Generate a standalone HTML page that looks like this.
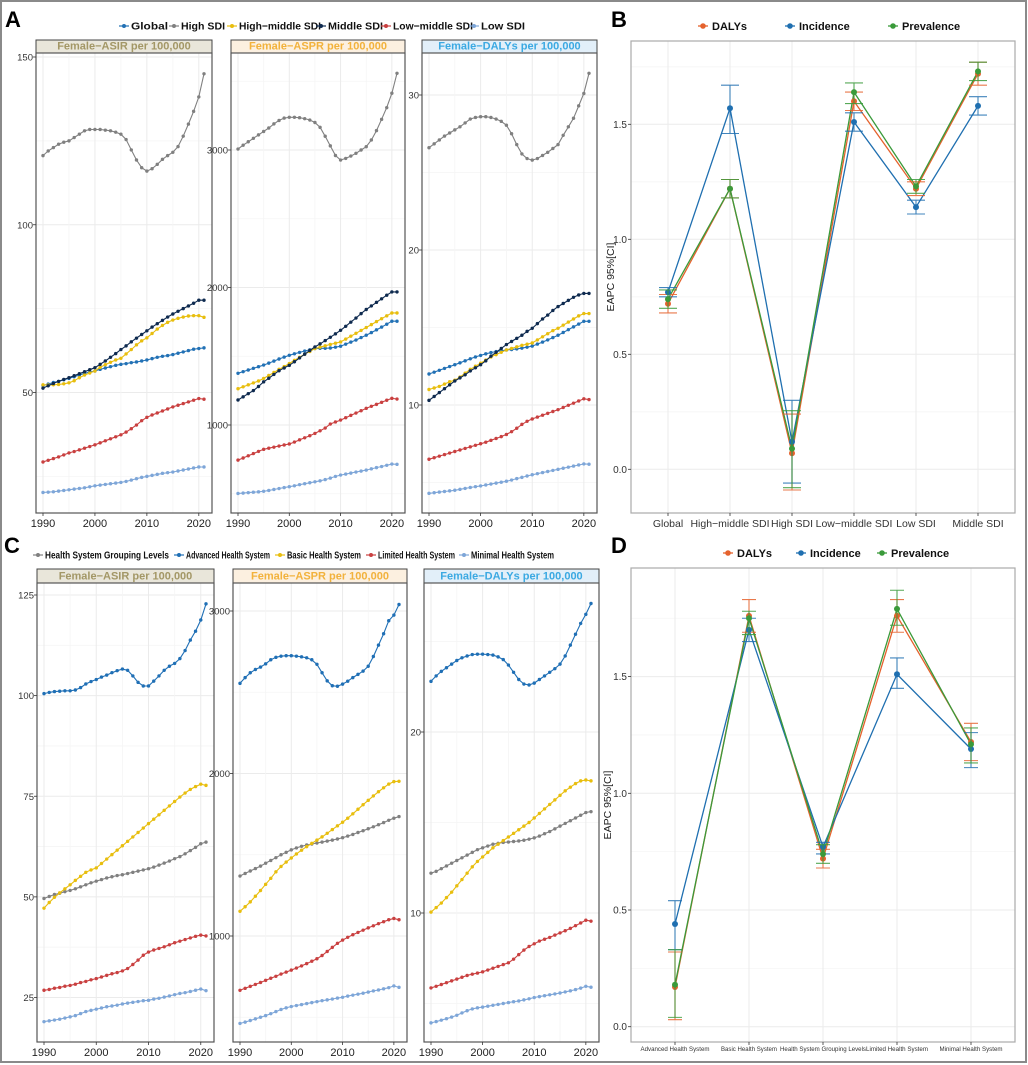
<!DOCTYPE html>
<html><head><meta charset="utf-8">
<style>
html,body{margin:0;padding:0;background:#fff;}
svg{display:block;font-family:"Liberation Sans",Arial,sans-serif;}
</style></head>
<body>
<svg id="fig" width="1028" height="1065" viewBox="0 0 1028 1065" xmlns="http://www.w3.org/2000/svg">
<rect x="1" y="1" width="1025" height="1061" fill="#fff" stroke="#8a8a8a" stroke-width="2"/>
<text x="5" y="27" font-size="22" font-weight="bold">A</text>
<text x="611" y="27" font-size="22" font-weight="bold">B</text>
<text x="4" y="553" font-size="22" font-weight="bold">C</text>
<text x="611" y="553" font-size="22" font-weight="bold">D</text>
</svg>
<script>
// ---------- data: years ----------
const years=[1990,1991,1992,1993,1994,1995,1996,1997,1998,1999,2000,2001,2002,2003,2004,2005,2006,2007,2008,2009,2010,2011,2012,2013,2014,2015,2016,2017,2018,2019,2020,2021];
// ---------- Panel A: SDI groups ----------
const A1_global=[52.1,52.5,53,53.3,53.8,54.2,54.7,55.2,55.7,56.1,56.4,56.9,57.3,57.7,58.1,58.4,58.6,58.9,59.1,59.4,59.7,60.1,60.5,60.8,61,61.3,61.7,62.1,62.5,62.9,63.1,63.3];
const A1_high=[120.6,122,123,124,124.6,125,126,127,128,128.4,128.4,128.4,128.2,128,127.6,127,125.4,122.3,119.3,117,116,116.7,118,119.5,120.6,121.6,123.3,126.4,130,133.8,138.1,145];
const A1_highmid=[52.3,52.2,52.3,52.4,52.6,52.9,53.5,54.4,55.2,55.8,56.4,57.5,58.3,59,59.7,60.2,61.5,62.8,64.2,65.4,66.3,67.6,68.9,70,70.9,71.6,72.1,72.5,72.8,72.9,72.9,72.4];
const A1_mid=[51.3,52,52.7,53.3,53.9,54.4,55,55.6,56.2,56.8,57.4,58.4,59.4,60.5,61.6,62.8,63.9,65.1,66.2,67.3,68.4,69.5,70.5,71.5,72.5,73.4,74.2,75,75.8,76.6,77.5,77.5];
const A1_lowmid=[29.3,29.8,30.3,30.8,31.4,32,32.4,32.9,33.4,33.9,34.4,35,35.6,36.2,36.8,37.4,38.2,39.2,40.3,41.6,42.6,43.3,43.9,44.5,45.1,45.7,46.2,46.7,47.2,47.7,48.2,48];
const A1_low=[20.2,20.3,20.4,20.6,20.8,21,21.2,21.4,21.6,21.9,22.2,22.4,22.6,22.8,23,23.2,23.5,23.9,24.3,24.7,25,25.3,25.6,25.9,26.1,26.3,26.6,26.9,27.2,27.5,27.8,27.8];
const A2_global=[1376,1388,1400,1412,1424,1436,1450,1465,1480,1494,1507,1518,1528,1538,1547,1556,1558,1558,1560,1566,1573,1588,1603,1618,1636,1653,1672,1692,1712,1733,1755,1755];
const A2_high=[3007,3035,3060,3085,3110,3135,3160,3190,3215,3232,3238,3238,3235,3228,3218,3200,3165,3100,3030,2960,2927,2939,2956,2976,3000,3024,3073,3141,3223,3308,3413,3558];
const A2_highmid=[1264,1278,1292,1306,1320,1339,1360,1382,1405,1425,1447,1470,1492,1515,1535,1556,1566,1576,1586,1595,1604,1625,1646,1667,1688,1709,1730,1752,1773,1794,1815,1815];
const A2_mid=[1182,1205,1228,1250,1280,1314,1340,1368,1395,1415,1434,1460,1488,1515,1542,1568,1590,1614,1638,1663,1689,1718,1748,1778,1810,1840,1866,1892,1918,1944,1968,1968];
const A2_lowmid=[745,760,776,792,808,823,831,839,847,855,862,876,892,907,922,939,958,978,1007,1022,1036,1053,1070,1087,1104,1121,1136,1150,1165,1180,1194,1189];
const A2_low=[502,505,508,511,514,518,524,531,538,545,551,558,566,573,580,587,594,603,614,626,636,643,650,658,665,672,681,690,698,707,716,714];
const A3_global=[12.0,12.12,12.24,12.36,12.48,12.6,12.72,12.85,12.98,13.1,13.2,13.3,13.38,13.45,13.5,13.55,13.58,13.62,13.67,13.73,13.8,13.93,14.06,14.2,14.35,14.5,14.68,14.86,15.04,15.22,15.4,15.4];
const A3_high=[26.6,26.85,27.1,27.35,27.55,27.75,27.95,28.2,28.45,28.55,28.6,28.6,28.55,28.45,28.3,28.05,27.5,26.8,26.2,25.9,25.8,25.9,26.1,26.3,26.55,26.8,27.4,27.95,28.5,29.3,30.1,31.4];
const A3_highmid=[11.0,11.1,11.2,11.35,11.5,11.6,11.8,12.05,12.3,12.5,12.7,12.9,13.1,13.25,13.4,13.55,13.65,13.75,13.85,13.92,14.0,14.2,14.4,14.6,14.8,14.95,15.15,15.35,15.55,15.75,15.9,15.9];
const A3_mid=[10.3,10.55,10.8,11.05,11.3,11.55,11.75,11.95,12.2,12.4,12.6,12.85,13.15,13.4,13.65,13.9,14.1,14.3,14.5,14.75,14.95,15.25,15.55,15.8,16.1,16.35,16.55,16.75,16.95,17.1,17.2,17.2];
const A3_lowmid=[6.5,6.6,6.7,6.8,6.9,7.0,7.1,7.2,7.3,7.4,7.5,7.6,7.72,7.84,7.96,8.1,8.28,8.5,8.75,8.95,9.1,9.22,9.34,9.46,9.58,9.7,9.84,9.98,10.12,10.26,10.4,10.35];
const A3_low=[4.3,4.34,4.38,4.42,4.46,4.5,4.56,4.62,4.68,4.73,4.78,4.84,4.9,4.96,5.02,5.08,5.16,5.25,5.33,5.42,5.5,5.57,5.64,5.71,5.78,5.85,5.92,5.99,6.06,6.13,6.2,6.18];
const A1_ticks=[50,100,150];
const A2_ticks=[1000,2000,3000];
const A3_ticks=[10,20,30];
// ---------- Panel C: health systems ----------
const C1_group=[49.6,50.1,50.6,50.9,51.3,51.6,52,52.5,53,53.5,53.9,54.3,54.7,55,55.3,55.5,55.8,56.1,56.4,56.7,57,57.4,57.9,58.4,58.9,59.5,60,60.7,61.5,62.3,63.2,63.6];
const C1_adv=[100.5,100.8,101,101.1,101.2,101.2,101.4,102,102.9,103.5,104,104.6,105.1,105.7,106.2,106.6,106.3,104.9,103.3,102.4,102.4,103.6,104.9,106.3,107.3,108,109.2,111.2,113.8,116,118.8,122.8];
const C1_basic=[47.2,48.6,49.9,51,52,53,54.1,55.1,56.1,56.7,57.2,58.3,59.4,60.5,61.6,62.7,63.8,64.9,66,67.1,68.2,69.3,70.4,71.5,72.6,73.7,74.8,75.8,76.7,77.4,78,77.7];
const C1_limited=[26.8,27,27.3,27.5,27.8,28,28.3,28.7,29,29.4,29.7,30.1,30.5,30.9,31.2,31.6,32.2,33.2,34.3,35.5,36.3,36.8,37.2,37.6,38.1,38.6,39,39.4,39.8,40.2,40.5,40.3];
const C1_minimal=[19,19.2,19.4,19.6,19.9,20.2,20.5,21,21.5,21.8,22.1,22.4,22.7,22.9,23.1,23.4,23.6,23.8,24,24.2,24.3,24.6,24.8,25.1,25.4,25.7,26,26.2,26.5,26.8,27.1,26.7];
const C2_group=[1369,1385,1400,1415,1430,1448,1465,1482,1500,1515,1530,1542,1552,1560,1566,1572,1578,1584,1590,1597,1605,1615,1625,1637,1648,1660,1672,1685,1698,1712,1725,1735];
const C2_adv=[2555,2590,2620,2640,2655,2675,2700,2715,2722,2725,2725,2722,2718,2712,2700,2672,2620,2570,2540,2537,2550,2568,2590,2610,2630,2660,2720,2790,2860,2940,2975,3040];
const C2_basic=[1152,1180,1210,1245,1280,1318,1355,1395,1428,1455,1480,1505,1528,1550,1570,1590,1610,1632,1655,1678,1700,1725,1752,1780,1808,1835,1862,1888,1912,1935,1950,1952];
const C2_limited=[666,678,690,702,714,727,740,752,766,778,790,803,816,830,845,860,880,905,930,955,975,992,1008,1022,1036,1050,1063,1076,1088,1100,1108,1100];
const C2_minimal=[462,470,480,490,500,510,522,535,548,558,566,572,578,584,590,596,602,607,612,618,623,630,636,642,648,655,662,668,675,682,693,684];
const C3_group=[12.2,12.3,12.45,12.6,12.75,12.9,13.05,13.2,13.35,13.5,13.6,13.7,13.8,13.85,13.9,13.92,13.95,13.98,14.02,14.08,14.15,14.25,14.38,14.5,14.65,14.8,14.95,15.1,15.25,15.4,15.55,15.6];
const C3_adv=[22.8,23.1,23.35,23.55,23.75,23.95,24.1,24.2,24.28,24.3,24.3,24.28,24.25,24.15,24.0,23.7,23.3,22.9,22.65,22.6,22.7,22.9,23.1,23.3,23.5,23.75,24.2,24.8,25.4,26,26.5,27.1];
const C3_basic=[10.05,10.3,10.55,10.85,11.15,11.5,11.85,12.2,12.55,12.85,13.1,13.35,13.6,13.8,14.0,14.2,14.4,14.6,14.8,15.0,15.25,15.5,15.75,16.0,16.25,16.5,16.75,16.95,17.15,17.3,17.35,17.3];
const C3_limited=[5.86,5.95,6.05,6.15,6.25,6.35,6.45,6.55,6.62,6.68,6.75,6.85,6.95,7.05,7.15,7.25,7.45,7.7,7.95,8.15,8.3,8.45,8.55,8.65,8.78,8.9,9.02,9.15,9.3,9.45,9.6,9.55];
const C3_minimal=[3.93,4.0,4.08,4.16,4.25,4.35,4.48,4.6,4.7,4.76,4.8,4.85,4.9,4.95,5.0,5.05,5.1,5.14,5.2,5.26,5.33,5.38,5.43,5.48,5.53,5.58,5.64,5.7,5.77,5.85,5.95,5.9];
const C1_ticks=[25,50,75,100,125];
const C2_ticks=[1000,2000,3000];
const C3_ticks=[10,20];
// ---------- Panel B: EAPC by SDI ----------
const B_categories=["Global","High\u2212middle SDI","High SDI","Low\u2212middle SDI","Low SDI","Middle SDI"];
const B_dalys=[0.72,1.22,0.07,1.60,1.22,1.72];
const B_dalys_lo=[0.68,1.18,-0.09,1.56,1.19,1.67];
const B_dalys_hi=[0.76,1.26,0.24,1.64,1.25,1.77];
const B_inc=[0.77,1.57,0.12,1.51,1.14,1.58];
const B_inc_lo=[0.75,1.46,-0.06,1.47,1.11,1.54];
const B_inc_hi=[0.79,1.67,0.30,1.55,1.17,1.62];
const B_prev=[0.74,1.22,0.09,1.64,1.23,1.73];
const B_prev_lo=[0.70,1.18,-0.08,1.59,1.20,1.69];
const B_prev_hi=[0.78,1.26,0.255,1.68,1.26,1.77];
const B_ticks=[0.0,0.5,1.0,1.5];
// ---------- Panel D: EAPC by health system ----------
const D_categories=["Advanced Health System","Basic Health System","Health System Grouping Levels","Limited Health System","Minimal Health System"];
const D_dalys=[0.17,1.76,0.72,1.76,1.22];
const D_dalys_lo=[0.03,1.69,0.68,1.69,1.14];
const D_dalys_hi=[0.32,1.83,0.76,1.83,1.30];
const D_inc=[0.44,1.70,0.77,1.51,1.19];
const D_inc_lo=[0.33,1.65,0.74,1.45,1.11];
const D_inc_hi=[0.54,1.75,0.79,1.58,1.26];
const D_prev=[0.18,1.75,0.74,1.79,1.21];
const D_prev_lo=[0.04,1.68,0.70,1.72,1.13];
const D_prev_hi=[0.33,1.78,0.78,1.87,1.28];
const D_ticks=[0.0,0.5,1.0,1.5];

const NS="http://www.w3.org/2000/svg";
const svg=document.getElementById('fig');
function mk(tag,attrs,parent){const e=document.createElementNS(NS,tag);for(const k in attrs)e.setAttribute(k,attrs[k]);(parent||svg).appendChild(e);return e;}
function txt(x,y,s,attrs){const e=mk('text',Object.assign({x:x,y:y},attrs||{}));e.textContent=s;return e;}

const COL={global:'#2271B5',high:'#808080',highmid:'#E8BE0E',mid:'#0E2A4F',lowmid:'#C94040',low:'#7EA6D8',
  grp:'#808080',adv:'#1F6FB5',basic:'#E8BE0E',lim:'#C94040',min:'#7EA6D8',
  dalys:'#E5622D',inc:'#1F6FB0',prev:'#3A9A3A'};

function linePanel(g){
  const x0=g.x0,x1=g.x1,y0=g.y0,y1=g.y1;
  const t0=g.ticks[0],tN=g.ticks[g.ticks.length-1];
  const yS=v=>g.ty0+(v-t0)*(g.tyN-g.ty0)/(tN-t0);
  const xS=yr=>x0+7+(yr-1990)*(x1-x0-15)/31;
  const step=g.ticks.length>1?g.ticks[1]-g.ticks[0]:10;
  const st=mk('rect',{x:x0,y:g.sy,width:x1-x0,height:y0-g.sy,fill:g.sfill,stroke:'#444','stroke-width':1});
  
  
  const stt=txt((x0+x1)/2,y0-3.5,g.title,{'font-size':11,'font-weight':'bold',fill:g.scol,'text-anchor':'middle'});
  
  
  for(let v=t0-step*2;v<=tN+step*2;v+=step/2){
    const yy=yS(v); if(yy<y0+1||yy>y1-1)continue;
    const major=g.ticks.indexOf(Math.round(v*1000)/1000)>=0;
    const gl=mk('line',{x1:x0,x2:x1,y1:yy,y2:yy,stroke:major?'#EBEBEB':'#F5F5F5','stroke-width':major?1:0.8});
    
    
  }
  [1990,1995,2000,2005,2010,2015,2020].forEach(yr=>{
    const xx=xS(yr);const major=yr%10===0;
    const gl=mk('line',{x1:xx,x2:xx,y1:y0,y2:y1,stroke:major?'#EBEBEB':'#F5F5F5','stroke-width':major?1:0.8});
    
    
  });
  g.series.forEach(s=>{
    const pts=s.data.map((v,i)=>xS(years[i]).toFixed(1)+','+yS(v).toFixed(1)).join(' ');
    const pl=mk('polyline',{points:pts,fill:'none',stroke:s.col,'stroke-width':1.1});
    
    
    s.data.forEach((v,i)=>{
      const c=mk('circle',{cx:xS(years[i]),cy:yS(v),r:1.7,fill:s.col});
      
      
    });
  });
  const fr=mk('rect',{x:x0,y:y0,width:x1-x0,height:y1-y0,fill:'none',stroke:'#555','stroke-width':1.2});
  
  
  g.ticks.forEach(v=>{
    const yy=yS(v);
    const tk=mk('line',{x1:x0-3,x2:x0,y1:yy,y2:yy,stroke:'#333','stroke-width':0.8});
    
    
    const tl=txt(x0-3,yy+3.5,String(v),{'font-size':9.5,fill:'#333','text-anchor':'end'});
    
    
  });
  [1990,2000,2010,2020].forEach(yr=>{
    const xx=xS(yr);
    const tk=mk('line',{x1:xx,x2:xx,y1:y1,y2:y1+3,stroke:'#333','stroke-width':0.8});
    
    
    const tl=txt(xx,y1+14,String(yr),{'font-size':11,fill:'#222','text-anchor':'middle'});
    
    
  });
}

const stripA=[{t:'Female\u2212ASIR per 100,000',f:'#E9E6DA',c:'#A39766'},{t:'Female\u2212ASPR per 100,000',f:'#FCF0E0',c:'#F2B23C'},{t:'Female\u2212DALYs per 100,000',f:'#E2EFF9',c:'#3BA9E2'}];
linePanel({name:'a-asir',x0:36,x1:212,sy:40,y0:53,y1:513,ticks:A1_ticks,ty0:392.5,tyN:57,title:stripA[0].t,sfill:stripA[0].f,scol:stripA[0].c,
 series:[{key:'high-sdi',data:A1_high,col:COL.high},{key:'low-sdi',data:A1_low,col:COL.low},{key:'low-middle-sdi',data:A1_lowmid,col:COL.lowmid},{key:'global',data:A1_global,col:COL.global},{key:'high-middle-sdi',data:A1_highmid,col:COL.highmid},{key:'middle-sdi',data:A1_mid,col:COL.mid}]});
linePanel({name:'a-aspr',x0:231,x1:405,sy:40,y0:53,y1:513,ticks:A2_ticks,ty0:425,tyN:150,title:stripA[1].t,sfill:stripA[1].f,scol:stripA[1].c,
 series:[{key:'high-sdi',data:A2_high,col:COL.high},{key:'low-sdi',data:A2_low,col:COL.low},{key:'low-middle-sdi',data:A2_lowmid,col:COL.lowmid},{key:'global',data:A2_global,col:COL.global},{key:'high-middle-sdi',data:A2_highmid,col:COL.highmid},{key:'middle-sdi',data:A2_mid,col:COL.mid}]});
linePanel({name:'a-dalys',x0:422,x1:597,sy:40,y0:53,y1:513,ticks:A3_ticks,ty0:405,tyN:95,title:stripA[2].t,sfill:stripA[2].f,scol:stripA[2].c,
 series:[{key:'high-sdi',data:A3_high,col:COL.high},{key:'low-sdi',data:A3_low,col:COL.low},{key:'low-middle-sdi',data:A3_lowmid,col:COL.lowmid},{key:'global',data:A3_global,col:COL.global},{key:'high-middle-sdi',data:A3_highmid,col:COL.highmid},{key:'middle-sdi',data:A3_mid,col:COL.mid}]});

linePanel({name:'c-asir',x0:37,x1:214,sy:569,y0:583,y1:1042,ticks:C1_ticks,ty0:997.5,tyN:595,title:stripA[0].t,sfill:stripA[0].f,scol:stripA[0].c,
 series:[{key:'minimal',data:C1_minimal,col:COL.min},{key:'limited',data:C1_limited,col:COL.lim},{key:'grouping',data:C1_group,col:COL.grp},{key:'basic',data:C1_basic,col:COL.basic},{key:'advanced',data:C1_adv,col:COL.adv}]});
linePanel({name:'c-aspr',x0:233,x1:407,sy:569,y0:583,y1:1042,ticks:C2_ticks,ty0:936,tyN:611,title:stripA[1].t,sfill:stripA[1].f,scol:stripA[1].c,
 series:[{key:'minimal',data:C2_minimal,col:COL.min},{key:'limited',data:C2_limited,col:COL.lim},{key:'grouping',data:C2_group,col:COL.grp},{key:'basic',data:C2_basic,col:COL.basic},{key:'advanced',data:C2_adv,col:COL.adv}]});
linePanel({name:'c-dalys',x0:424,x1:599,sy:569,y0:583,y1:1042,ticks:C3_ticks,ty0:913,tyN:732,title:stripA[2].t,sfill:stripA[2].f,scol:stripA[2].c,
 series:[{key:'minimal',data:C3_minimal,col:COL.min},{key:'limited',data:C3_limited,col:COL.lim},{key:'grouping',data:C3_group,col:COL.grp},{key:'basic',data:C3_basic,col:COL.basic},{key:'advanced',data:C3_adv,col:COL.adv}]});

function legendItem(mx,y,label,col,name,w){
  const l=mk('line',{x1:mx-5,x2:mx+5,y1:y,y2:y,stroke:col,'stroke-width':1.2});
  
  
  const c=mk('circle',{cx:mx,cy:y,r:2,fill:col});
  
  
  const t=txt(mx+7,y+3.7,label,{'font-size':10.5,'font-weight':'bold',fill:'#111',textLength:w,lengthAdjust:'spacingAndGlyphs'});
  
  
}
legendItem(124,26,'Global',COL.global,'legend-global',37);
legendItem(174,26,'High SDI',COL.high,'legend-high-sdi',44);
legendItem(232,26,'High\u2212middle SDI',COL.highmid,'legend-high-middle-sdi',82);
legendItem(321,26,'Middle SDI',COL.mid,'legend-middle-sdi',55);
legendItem(386,26,'Low\u2212middle SDI',COL.lowmid,'legend-low-middle-sdi',80);
legendItem(474,26,'Low SDI',COL.low,'legend-low-sdi',44);
legendItem(38,555,'Health System Grouping Levels',COL.grp,'legend-grouping',124);
legendItem(179,555,'Advanced Health System',COL.adv,'legend-advanced',84);
legendItem(280,555,'Basic Health System',COL.basic,'legend-basic',74);
legendItem(371,555,'Limited Health System',COL.lim,'legend-limited',77);
legendItem(464,555,'Minimal Health System',COL.min,'legend-minimal',83);

function eapcPanel(g){
  const x0=g.x0,x1=g.x1,y0=g.y0,y1=g.y1;
  const yS=v=>g.zeroY-v*g.unit;
  const xS=i=>g.cx0+i*g.cstep;
  for(let v=-0.25;v<=2.0;v+=0.25){
    const yy=yS(v); if(yy<y0+1||yy>y1-1)continue;
    const major=Math.abs(v*2-Math.round(v*2))<1e-6;
    const gl=mk('line',{x1:x0,x2:x1,y1:yy,y2:yy,stroke:major?'#EBEBEB':'#F5F5F5','stroke-width':major?1:0.8});
    
    
  }
  g.cats.forEach((c,i)=>{
    const xx=xS(i);
    const gl=mk('line',{x1:xx,x2:xx,y1:y0,y2:y1,stroke:'#EBEBEB','stroke-width':1});
    
    
  });
  g.series.forEach(s=>{
    const pts=s.v.map((v,i)=>xS(i).toFixed(1)+','+yS(v).toFixed(1)).join(' ');
    const pl=mk('polyline',{points:pts,fill:'none',stroke:s.col,'stroke-width':1.3});
    
    
  });
  g.series.forEach(s=>{
    s.v.forEach((v,i)=>{
      const xx=xS(i);
      const eb=mk('path',{d:'M'+(xx-g.cap)+','+yS(s.hi[i])+'H'+(xx+g.cap)+'M'+xx+','+yS(s.hi[i])+'V'+yS(s.lo[i])+'M'+(xx-g.cap)+','+yS(s.lo[i])+'H'+(xx+g.cap),fill:'none',stroke:s.col,'stroke-width':1.1,'stroke-opacity':0.85});
      
      
      const c=mk('circle',{cx:xx,cy:yS(v),r:3,fill:s.col});
      
      
    });
  });
  const fr=mk('rect',{x:x0,y:y0,width:x1-x0,height:y1-y0,fill:'none',stroke:'#aaa','stroke-width':1.2});
  
  
  g.ticks.forEach(v=>{
    const yy=yS(v);
    const tk=mk('line',{x1:x0-3,x2:x0,y1:yy,y2:yy,stroke:'#333','stroke-width':0.8});
    
    
    const tl=txt(x0-4,yy+3.5,v.toFixed(1),{'font-size':10,fill:'#333','text-anchor':'end'});
    
    
  });
  g.cats.forEach((c,i)=>{
    const xx=xS(i);
    const tk=mk('line',{x1:xx,x2:xx,y1:y1,y2:y1+3,stroke:'#333','stroke-width':0.8});
    
    
    const at={'font-size':g.lblSize,fill:'#333','text-anchor':'middle'};
    if(g.lblW){at.textLength=g.lblW[i];at.lengthAdjust='spacingAndGlyphs';}
    const tl=txt(xx,y1+g.lblDy,c,at);
    
    
  });
  const yt=txt(0,0,'EAPC 95%[CI]',{'font-size':10.5,fill:'#222','text-anchor':'middle',transform:'translate('+g.titleX+','+((y0+y1)/2)+') rotate(-90)'});
  
  
  g.legend.forEach(L=>{
    const l=mk('line',{x1:L.x-5,x2:L.x+5,y1:g.ly,y2:g.ly,stroke:L.col,'stroke-width':1.3});
    
    
    const c=mk('circle',{cx:L.x,cy:g.ly,r:2.8,fill:L.col});
    
    
    const t=txt(L.x+9,g.ly+4,L.t,{'font-size':11,'font-weight':'bold',fill:'#111'});
    
    
  });
}
eapcPanel({name:'b',x0:631,x1:1015,y0:41,y1:513,zeroY:469.3,unit:230,cx0:668,cstep:62,cap:9,cats:B_categories,ticks:B_ticks,lblDy:14,lblSize:10.5,titleX:614,
 ly:26,legend:[{x:703,t:'DALYs',col:COL.dalys},{x:790,t:'Incidence',col:COL.inc},{x:893,t:'Prevalence',col:COL.prev}],
 series:[{key:'dalys',v:B_dalys,lo:B_dalys_lo,hi:B_dalys_hi,col:COL.dalys},{key:'incidence',v:B_inc,lo:B_inc_lo,hi:B_inc_hi,col:COL.inc},{key:'prevalence',v:B_prev,lo:B_prev_lo,hi:B_prev_hi,col:COL.prev}]});
eapcPanel({name:'d',x0:631,x1:1015,y0:568,y1:1042,zeroY:1026.7,unit:233.4,cx0:675,cstep:74,cap:7,cats:D_categories,ticks:D_ticks,lblDy:9,lblSize:6.6,lblW:[69,56,86,62,63],titleX:611,
 ly:553,legend:[{x:728,t:'DALYs',col:COL.dalys},{x:801,t:'Incidence',col:COL.inc},{x:882,t:'Prevalence',col:COL.prev}],
 series:[{key:'dalys',v:D_dalys,lo:D_dalys_lo,hi:D_dalys_hi,col:COL.dalys},{key:'incidence',v:D_inc,lo:D_inc_lo,hi:D_inc_hi,col:COL.inc},{key:'prevalence',v:D_prev,lo:D_prev_lo,hi:D_prev_hi,col:COL.prev}]});
</script>
</body></html>
